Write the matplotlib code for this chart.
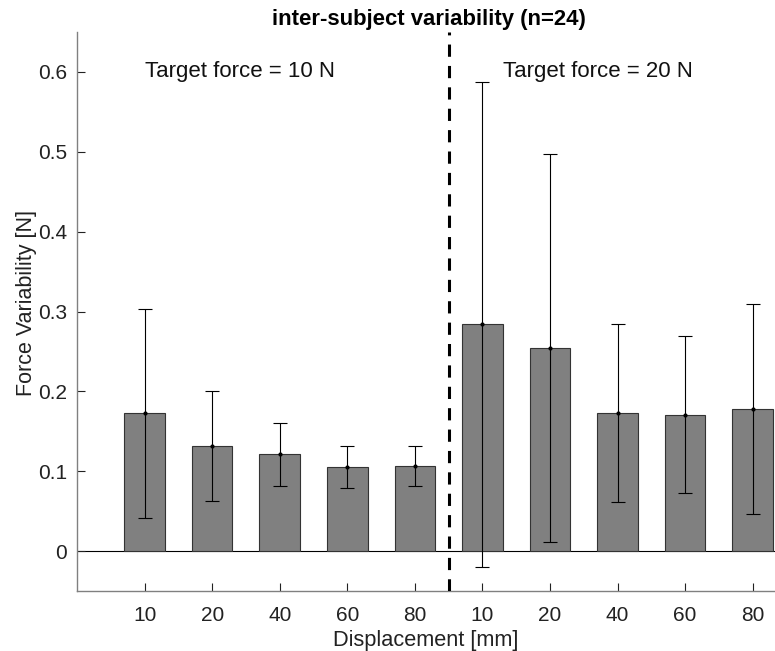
import matplotlib
matplotlib.use("Agg")
import matplotlib.pyplot as plt
import numpy as np

plt.rcParams['font.family'] = ['Liberation Sans', 'DejaVu Sans']

displacement_labels = ["10", "20", "40", "60", "80", "10", "20", "40", "60", "80"]
mean_variability = [0.1725, 0.132, 0.121, 0.105, 0.107, 0.284, 0.254, 0.173, 0.171, 0.178]
sd_variability = [0.131, 0.069, 0.039, 0.026, 0.025, 0.304, 0.243, 0.111, 0.098, 0.132]
group_labels = ["Target force = 10 N", "Target force = 20 N"]

fig = plt.figure(figsize=(7.75, 6.51), dpi=100)
ax = fig.add_axes([77/775, 60/651, 1 - 77/775, (591-32)/651])

x = np.arange(1, len(mean_variability) + 1)
ax.bar(x, mean_variability, width=0.6, color='#808080', edgecolor='#333333', linewidth=0.8, zorder=2)
ax.errorbar(x, mean_variability, yerr=sd_variability, fmt='o', color='black', markersize=2,
            elinewidth=0.8, capsize=5, capthick=0.8, zorder=3)
ax.axhline(0, color='black', linewidth=0.8, zorder=1)
ax.axvline(5.5, color='black', linestyle=(0, (4, 3)), linewidth=2.2, zorder=4)

ax.set_xlim(0, 10.33)
ax.set_ylim(-0.05, 0.65)
ax.set_xticks(x)
ax.set_xticklabels(displacement_labels)
ax.set_yticks([0, 0.1, 0.2, 0.3, 0.4, 0.5, 0.6])
ax.set_yticklabels(["0", "0.1", "0.2", "0.3", "0.4", "0.5", "0.6"])
ax.tick_params(direction='in', length=6, labelsize=15, colors='#222222', width=0.8)
ax.tick_params(axis='x', pad=11)
ax.tick_params(axis='y', pad=7)
for s in ['top', 'right']:
    ax.spines[s].set_visible(False)
for s in ['left', 'bottom']:
    ax.spines[s].set_color('#808080')
    ax.spines[s].set_linewidth(1.0)

ax.set_xlabel("Displacement [mm]", fontsize=15.7, color='#222222')
ax.xaxis.set_label_coords((426 - 77) / 698, -0.069)
ax.set_ylabel("Force Variability [N]", fontsize=15.5, color='#222222')
ax.yaxis.set_label_coords(-0.058, 0.515)
ax.text(1.0, 0.6, group_labels[0], fontsize=16, va='center', ha='left', color='#111111')
ax.text(6.31, 0.6, group_labels[1], fontsize=16, va='center', ha='left', color='#111111')
fig.text(429/775, 1 - 19/651, "inter-subject variability (n=24)", fontsize=15.9, fontweight='bold',
         ha='center', va='center')

fig.savefig("out.png", dpi=100)
